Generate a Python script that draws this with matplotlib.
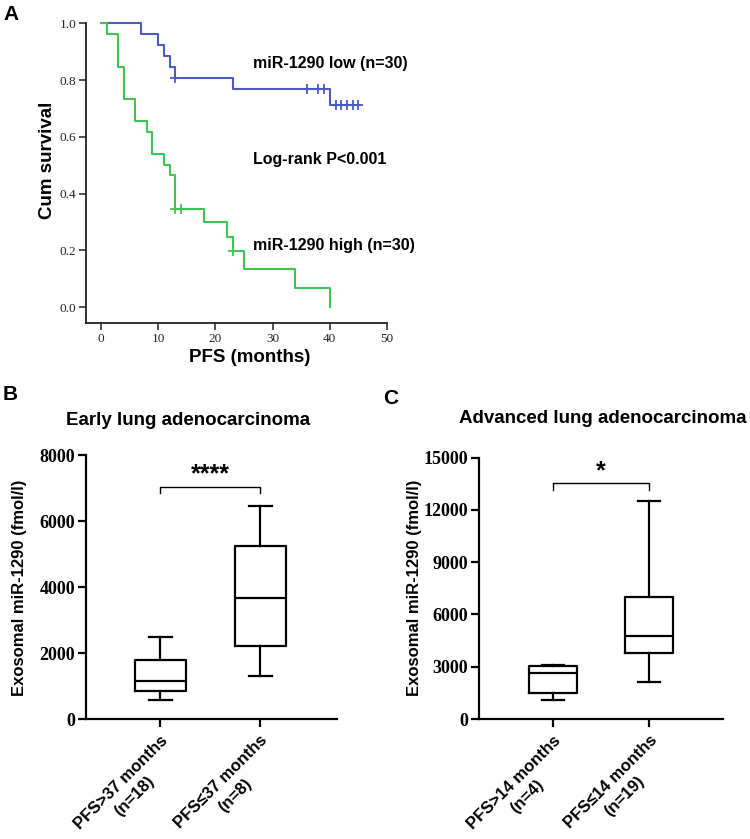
import numpy as np
import matplotlib
matplotlib.use("Agg")
import matplotlib.pyplot as plt

plt.rcParams['font.family'] = ['Liberation Sans', 'DejaVu Sans']

# ---------------- Data ----------------
# Panel A: Kaplan-Meier step data (time in months, cumulative survival)
low_times = [0, 7, 10, 11, 12, 13, 23, 40, 45.3]
low_surv = [1.0, 0.962, 0.925, 0.885, 0.847, 0.809, 0.769, 0.712, 0.712]
low_censor = [13, 36, 38, 39, 41, 42, 43, 44, 45]

high_times = [0, 1, 3, 4, 6, 8, 9, 11, 12, 13, 18, 22, 23, 25, 34, 40]
high_surv = [1.0, 0.962, 0.847, 0.732, 0.655, 0.616, 0.54, 0.502, 0.464,
             0.346, 0.30, 0.248, 0.198, 0.134, 0.067, 0.0]
high_censor = [13, 14, 23]

a_xticks = [0, 10, 20, 30, 40, 50]
a_yticks = [0.0, 0.2, 0.4, 0.6, 0.8, 1.0]

# Panel B: early lung adenocarcinoma box stats
b_groups = ["PFS>37 months", "PFS\u226437 months"]
b_counts = ["(n=18)", "(n=8)"]
b_min = [576, 1313]
b_q1 = [859, 2212]
b_med = [1152, 3656]
b_q3 = [1778, 5242]
b_max = [2475, 6454]
b_yticks = [0, 2000, 4000, 6000, 8000]

# Panel C: advanced lung adenocarcinoma box stats
c_groups = ["PFS>14 months", "PFS\u226414 months"]
c_counts = ["(n=4)", "(n=19)"]
c_min = [1090, 2123]
c_q1 = [1473, 3769]
c_med = [2659, 4763]
c_q3 = [3042, 6982]
c_max = [3118, 12492]
c_yticks = [0, 3000, 6000, 9000, 12000, 15000]

BLUE = "#4a5cc4"
GREEN = "#43c351"

W, H = 750, 839
fig = plt.figure(figsize=(W / 100, H / 100), dpi=100)
renderer = fig.canvas.get_renderer()


def rect(left, right, top, bottom):
    return [left / W, 1 - bottom / H, (right - left) / W, (bottom - top) / H]


def step_value(times, surv, t):
    idx = np.searchsorted(times, t, side='right') - 1
    return surv[idx]


def text_width_pt(s, **kw):
    t = fig.text(0, 0, s, **kw)
    w = t.get_window_extent(renderer).width
    t.remove()
    return w * 72.0 / fig.dpi


# ---------------- Panel A ----------------
axA = fig.add_axes(rect(86, 387, 23.3, 323))
axA.step(low_times, low_surv, where='post', color=BLUE, lw=1.5, clip_on=False)
axA.step(high_times, high_surv, where='post', color=GREEN, lw=1.5, clip_on=False)
axA.plot(low_censor, [step_value(low_times, low_surv, t) for t in low_censor],
         ls='none', marker='+', ms=7, mew=1.3, color=BLUE, clip_on=False)
axA.plot(high_censor, [step_value(high_times, high_surv, t) for t in high_censor],
         ls='none', marker='+', ms=7, mew=1.3, color=GREEN, clip_on=False)
axA.set_xlim(-2.62, 50)
axA.set_ylim(-0.056, 1.0)
axA.set_xticks(a_xticks)
axA.set_yticks(a_yticks)
axA.set_yticklabels([f"{v:.1f}" for v in a_yticks])
for s in ['top', 'right']:
    axA.spines[s].set_visible(False)
for s in ['left', 'bottom']:
    axA.spines[s].set_linewidth(1.3)
    axA.spines[s].set_color('#222222')
axA.tick_params(direction='out', length=5, width=1.1, colors='#222222', pad=2)
for lab in axA.get_xticklabels() + axA.get_yticklabels():
    lab.set_family(['Liberation Serif', 'DejaVu Serif'])
    lab.set_fontsize(9.5)
axA.text(26.6, 0.86, "miR-1290 low (n=30)", fontsize=11.5, fontweight='bold', va='center')
axA.text(26.6, 0.52, "Log-rank P<0.001", fontsize=11.5, fontweight='bold', va='center')
axA.text(26.6, 0.216, "miR-1290 high (n=30)", fontsize=11.5, fontweight='bold', va='center')

fig.text(48 / W, 1 - 160 / H, "Cum survival", rotation=90, fontsize=13.5,
         fontweight='bold', ha='center', va='center')
fig.text(250 / W, 1 - 358 / H, "PFS (months)", fontsize=13.5,
         fontweight='bold', ha='center', va='center')


# ---------------- Box panels ----------------
def box_panel(ax, groups, counts, mins, q1s, meds, q3s, maxs, yticks, ymax,
              width, bracket_y, bracket_drop, stars, star_y):
    stats = []
    for lab, mn, q1, md, q3, mx in zip(groups, mins, q1s, meds, q3s, maxs):
        stats.append(dict(label=lab, whislo=mn, q1=q1, med=md, q3=q3, whishi=mx, fliers=[]))
    lw = 1.6
    ax.bxp(stats, positions=[1, 2], widths=width, capwidths=0.23, showfliers=False,
           boxprops=dict(color='black', linewidth=lw),
           whiskerprops=dict(color='black', linewidth=lw),
           capprops=dict(color='black', linewidth=lw),
           medianprops=dict(color='black', linewidth=lw))
    ax.set_ylim(0, ymax)
    ax.set_yticks(yticks)
    ax.set_yticklabels([str(v) for v in yticks])
    for s in ['top', 'right']:
        ax.spines[s].set_visible(False)
    for s in ['left', 'bottom']:
        ax.spines[s].set_linewidth(1.6)
    ticklen, xpad = 6, 4
    ax.tick_params(direction='out', length=ticklen, width=1.6, pad=2)
    ax.tick_params(axis='x', pad=xpad)
    for lab in ax.get_yticklabels():
        lab.set_family(['Liberation Serif', 'DejaVu Serif'])
        lab.set_fontweight('bold')
        lab.set_fontsize(13)
    fs = 12
    ax.set_xticks([1, 2])
    ax.set_xticklabels(groups, rotation=45, ha='right', va='top',
                       rotation_mode='anchor', fontsize=fs, fontweight='bold')
    # second line (sample size), centred under the first line
    c = np.cos(np.pi / 4)
    L = fs * 1.15
    for xi, g, n in zip([1, 2], groups, counts):
        w1 = text_width_pt(g, fontsize=fs, fontweight='bold')
        w2 = text_width_pt(n, fontsize=fs, fontweight='bold')
        d = (w1 - w2) / 2.0
        ox = -c * d + c * L
        oy = -(ticklen + xpad) - c * d - c * L
        ax.annotate(n, xy=(xi, 0), xycoords=('data', 'axes fraction'),
                    xytext=(ox, oy), textcoords='offset points', rotation=45,
                    ha='right', va='top', rotation_mode='anchor',
                    fontsize=fs, fontweight='bold', annotation_clip=False)
    ax.plot([1, 1, 2, 2], [bracket_drop, bracket_y, bracket_y, bracket_drop],
            color='black', lw=1.0, clip_on=False)
    ax.text(1.5, star_y, stars, ha='center', va='center', fontsize=18,
            fontweight='bold', clip_on=False)


axB = fig.add_axes(rect(86, 337, 455, 719))
axB.set_xlim(0.26, 2.77)
box_panel(axB, b_groups, b_counts, b_min, b_q1, b_med, b_q3, b_max, b_yticks, 8000,
          0.51, 7040, 6858, "****", 7400)

axC = fig.add_axes(rect(479, 723, 457.7, 719))
axC.set_xlim(0.237, 2.763)
box_panel(axC, c_groups, c_counts, c_min, c_q1, c_med, c_q3, c_max, c_yticks, 15000,
          0.5, 13525, 13142, "*", 14200)

fig.text(188 / W, 1 - 420 / H, "Early lung adenocarcinoma", fontsize=13.5,
         fontweight='bold', ha='center', va='center')
fig.text(603 / W, 1 - 418 / H, "Advanced lung adenocarcinoma", fontsize=13.5,
         fontweight='bold', ha='center', va='center')
fig.text(20 / W, 1 - 588 / H, "Exosomal miR-1290 (fmol/l)", rotation=90, fontsize=12,
         fontweight='bold', ha='center', va='center')
fig.text(415 / W, 1 - 588 / H, "Exosomal miR-1290 (fmol/l)", rotation=90, fontsize=12,
         fontweight='bold', ha='center', va='center')

# Panel letters
fig.text(3 / W, 1 - 14 / H, "A", fontsize=15, fontweight='bold', ha='left', va='center')
fig.text(3 / W, 1 - 395 / H, "B", fontsize=15, fontweight='bold', ha='left', va='center')
fig.text(383 / W, 1 - 399 / H, "C", fontsize=15, fontweight='bold', ha='left', va='center')

fig.savefig("out.png", dpi=100)
